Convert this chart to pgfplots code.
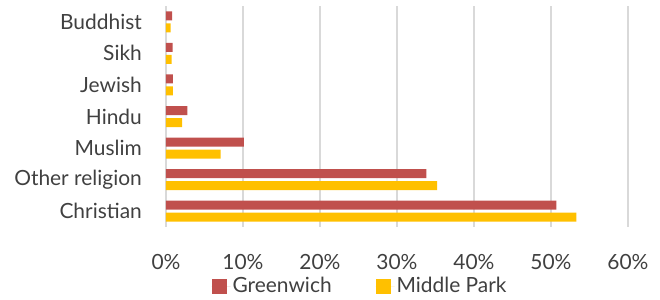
\documentclass[border=0pt]{standalone}
\usepackage{pgfplots}
\pgfplotsset{compat=1.18}
\usepackage{fontspec}
\setmainfont{Lato}
\definecolor{gw}{HTML}{C0504D}
\definecolor{mp}{HTML}{FFC000}
\definecolor{gridc}{HTML}{D9D9D9}
\definecolor{txt}{HTML}{404040}
\begin{document}
\fontsize{21}{25}\selectfont
\begin{tikzpicture}
\begin{axis}[
  at={(0,0)}, anchor=south west,
  scale only axis, width=462bp, height=221bp,
  xbar, bar width=9bp,
  xmin=0, xmax=60, ymin=-0.5, ymax=6.5,
  y dir=reverse,
  ytick={0,1,2,3,4,5,6},
  yticklabels={Buddhist,Sikh,Jewish,Hindu,Muslim,Other religion,Christian},
  xtick={0,10,20,30,40,50,60},
  xticklabel={\pgfmathprintnumber{\tick}\%},
  /pgf/number format/assume math mode=true,
  xmajorgrids, major grid style={gridc, line width=1.5bp},
  axis x line*=bottom, x axis line style={draw=none},
  axis y line*=left, y axis line style={gridc, line width=1.5bp, -},
  major tick length=0pt,
  tick label style={font=\fontsize{21}{25}\selectfont, text=txt},
  xticklabel style={yshift=-20bp},
  yticklabel style={xshift=-17bp},
  legend style={at={(0.42,-0.27)}, anchor=center, draw=none, legend columns=2,
    font=\fontsize{21}{25}\selectfont, text=txt,
    /tikz/every even column/.append style={column sep=42bp}},
  legend image code/.code={\fill[#1] (0bp,-7.5bp) rectangle (15bp,7.5bp); \path (0bp,0bp) -- (19bp,0bp);},
]
\addplot[fill=gw, draw=none, bar shift=6bp] coordinates {(0.8,0) (0.87,1) (0.9,2) (2.77,3) (10.1,4) (33.8,5) (50.7,6)};
\addplot[fill=mp, draw=none, bar shift=-6bp] coordinates {(0.6,0) (0.74,1) (0.9,2) (2.08,3) (7.1,4) (35.2,5) (53.3,6)};
\legend{Greenwich, Middle Park}
\end{axis}
\pgfresetboundingbox
\path (-166bp,-73bp) rectangle (494bp,227bp);
\end{tikzpicture}
\end{document}
